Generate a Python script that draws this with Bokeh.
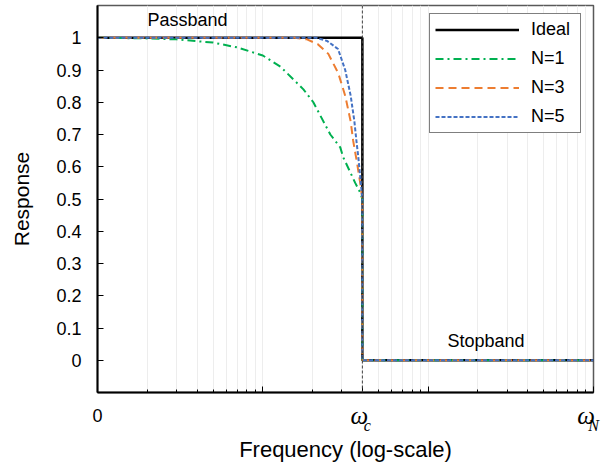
from bokeh.plotting import figure
from bokeh.models import FixedTicker, Span, Label, Legend, LegendItem, LogAxis
from bokeh.embed import file_html
from bokeh.resources import INLINE

# ---- data ----
x_major_ticks = [1, 10, 40, 100, 1000]
x_minor_ticks = [2, 3, 4, 5, 6, 7, 8, 9, 20, 30, 40, 50, 60, 70, 80, 90,
                 200, 300, 400, 500, 600, 700, 800, 900]
x_tick_labels = {1: "0", 10: "", 40: "", 100: "", 1000: ""}
omega_label_ticks = [38.3, 901]          # centres of the two omega symbols
omega_sub_ticks = [42.8, 1000]           # left edges of the subscripts
omega_sub_labels = ["c", "N"]
y_ticks = [0, 0.1, 0.2, 0.3, 0.4, 0.5, 0.6, 0.7, 0.8, 0.9, 1.0]
y_tick_labels = ["0", "0.1", "0.2", "0.3", "0.4", "0.5", "0.6", "0.7", "0.8", "0.9", "1"]

ideal_f = [1, 40, 40, 1000]
ideal_r = [1, 1, 0, 0]

n1_f = [1, 2, 3, 5, 7, 10, 12.8, 17.6, 20.2, 25.6, 29.4, 30.6, 33.3, 36.2, 38.8, 40, 40, 1000]
n1_r = [1, 0.998, 0.995, 0.985, 0.97, 0.945, 0.91, 0.84, 0.80, 0.70, 0.66, 0.63, 0.59, 0.55, 0.52, 0.5, 0, 0]

n3_f = [1, 10, 15.5, 18.5, 21.5, 24.9, 28.6, 31.5, 34.0, 35.2, 37.2, 38.8, 40, 40, 1000]
n3_r = [1, 1, 1, 0.995, 0.98, 0.95, 0.89, 0.82, 0.74, 0.68, 0.61, 0.55, 0.5, 0, 0]

n5_f = [1, 10, 21, 24.5, 28.5, 31.5, 34.0, 35.8, 37.0, 37.8, 38.8, 40, 40, 1000]
n5_r = [1, 1, 1, 0.99, 0.965, 0.9, 0.82, 0.74, 0.67, 0.63, 0.57, 0.5, 0, 0]

omega_c = 40

FONT = "Liberation Sans"
SERIF = "Liberation Serif"

p = figure(width=608, height=469, x_axis_type="log",
           x_range=(1, 1000), y_range=(-0.1, 1.1),
           output_backend="svg", toolbar_location=None,
           min_border_left=97, min_border_top=5, min_border_right=15, min_border_bottom=77)
p.background_fill_color = "white"
p.border_fill_color = "white"
p.outline_line_color = "#595959"
p.outline_line_width = 1.5

# grids
p.ygrid.grid_line_color = None
p.xgrid.grid_line_color = "#EDEDED"
p.xgrid.minor_grid_line_color = "#EDEDED"

# x axis (ticks and "0")
xa = p.xaxis[0]
xa.ticker = FixedTicker(ticks=x_major_ticks, minor_ticks=x_minor_ticks)
xa.major_label_overrides = x_tick_labels
xa.major_tick_in = 6
xa.major_tick_out = 0
xa.minor_tick_in = 3
xa.minor_tick_out = 0
xa.axis_line_width = 2
xa.axis_line_color = "black"
xa.major_tick_line_color = "black"
xa.minor_tick_line_color = "black"
xa.major_label_text_font = FONT
xa.major_label_text_font_size = "18px"
xa.major_label_text_color = "black"
xa.major_label_standoff = 16

# omega symbols
xb = LogAxis(ticker=FixedTicker(ticks=omega_label_ticks, minor_ticks=[]),
             major_label_overrides={t: "ω" for t in omega_label_ticks},
             axis_line_color=None, major_tick_line_color=None, minor_tick_line_color=None,
             major_tick_in=0, major_tick_out=0, minor_tick_in=0, minor_tick_out=0,
             major_label_text_font=SERIF, major_label_text_font_style="italic",
             major_label_text_font_size="25px", major_label_text_color="black",
             major_label_standoff=-23)
p.add_layout(xb, "below")

# subscripts + axis title
xc = LogAxis(ticker=FixedTicker(ticks=omega_sub_ticks, minor_ticks=[]),
             major_label_overrides=dict(zip(omega_sub_ticks, omega_sub_labels)),
             axis_line_color=None, major_tick_line_color=None, minor_tick_line_color=None,
             major_tick_in=0, major_tick_out=0, minor_tick_in=0, minor_tick_out=0,
             major_label_text_font=SERIF, major_label_text_font_style="italic",
             major_label_text_font_size="16px", major_label_text_color="black",
             major_label_text_align="left", major_label_standoff=-15,
             axis_label="Frequency (log-scale)", axis_label_text_font=FONT,
             axis_label_text_font_size="22px", axis_label_text_font_style="normal",
             axis_label_text_color="black", axis_label_standoff=0)
p.add_layout(xc, "below")

# y axis
p.yaxis.ticker = FixedTicker(ticks=y_ticks)
p.yaxis.major_label_overrides = {t: s for t, s in zip(y_ticks, y_tick_labels)}
p.yaxis.minor_tick_line_color = None
p.yaxis.major_tick_in = 6
p.yaxis.major_tick_out = 0
p.yaxis.axis_line_width = 2
p.yaxis.axis_line_color = "black"
p.yaxis.major_tick_line_color = "black"
p.yaxis.major_label_text_font = FONT
p.yaxis.major_label_text_font_size = "18px"
p.yaxis.major_label_text_color = "black"
p.yaxis.major_label_standoff = 16
p.yaxis.axis_label = "Response"
p.yaxis.axis_label_text_font = FONT
p.yaxis.axis_label_text_font_size = "21px"
p.yaxis.axis_label_text_font_style = "normal"
p.yaxis.axis_label_text_color = "black"
p.yaxis.axis_label_standoff = 20

# cutoff marker
p.add_layout(Span(location=omega_c, dimension="height", line_color="#404040",
                  line_width=1, line_dash="3 2"))

r_ideal = p.line(ideal_f, ideal_r, line_color="black", line_width=2.5)
r_n1 = p.line(n1_f, n1_r, line_color="#00B050", line_width=2, line_dash="8 4 2 4")
r_n3 = p.line(n3_f, n3_r, line_color="#ED7D31", line_width=2, line_dash="8 5")
r_n5 = p.line(n5_f, n5_r, line_color="#4472C4", line_width=2, line_dash="4 2")

legend = Legend(items=[LegendItem(label="Ideal", renderers=[r_ideal]),
                       LegendItem(label="N=1", renderers=[r_n1]),
                       LegendItem(label="N=3", renderers=[r_n3]),
                       LegendItem(label="N=5", renderers=[r_n5])],
                location=(332, 259), padding=5, margin=0, spacing=8,
                glyph_width=84, glyph_height=21, label_height=21, label_width=44,
                label_standoff=12, label_text_font=FONT, label_text_font_size="18px",
                label_text_color="black", border_line_color="black", border_line_width=1.5,
                background_fill_color="white", background_fill_alpha=1)
p.add_layout(legend)

# annotations
p.add_layout(Label(x=3.5, y=1.054, text="Passband", text_font=FONT, text_font_size="18px",
                   text_align="center", text_baseline="middle", text_color="black"))
p.add_layout(Label(x=224, y=0.061, text="Stopband", text_font=FONT, text_font_size="18px",
                   text_align="center", text_baseline="middle", text_color="black"))

open("out.html", "w").write(file_html(p, INLINE))
